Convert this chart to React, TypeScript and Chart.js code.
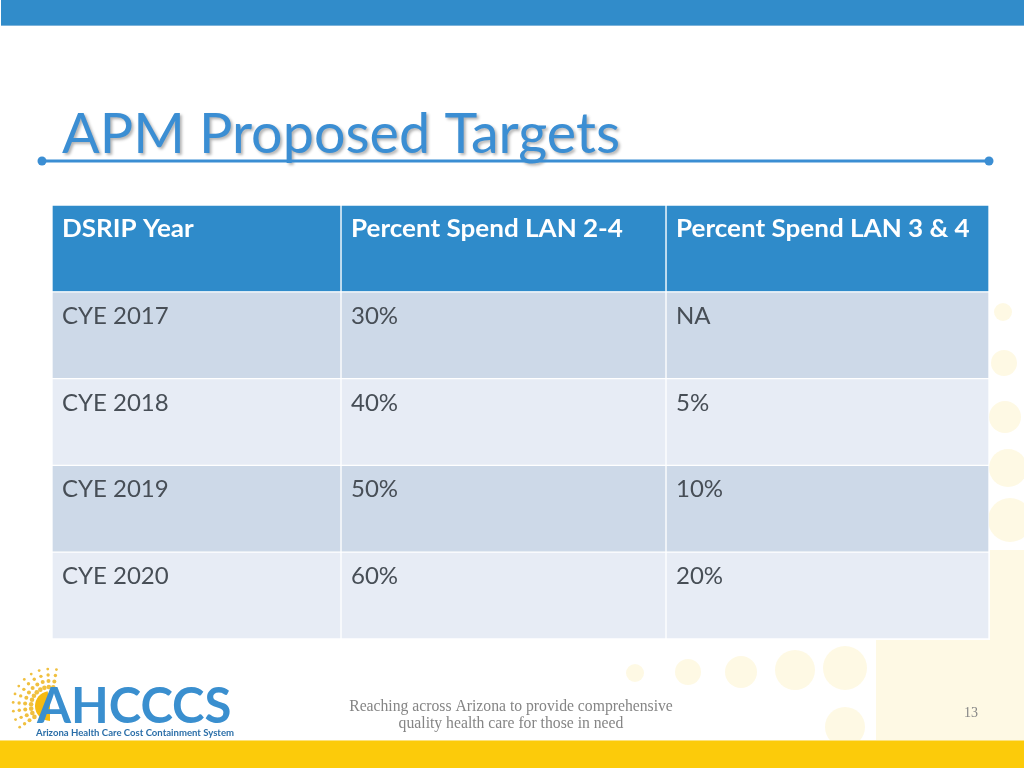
import React, { useEffect, useRef } from "react";
import { Chart, registerables } from "chart.js";

Chart.register(...registerables);

// ---- Data ----
const slideTitle = "APM Proposed Targets";
const columnHeaders = ["DSRIP Year", "Percent Spend LAN 2-4", "Percent Spend LAN 3 & 4"];
const dsripYears = ["CYE 2017", "CYE 2018", "CYE 2019", "CYE 2020"];
const lan24Targets = ["30%", "40%", "50%", "60%"];
const lan34Targets = ["NA", "5%", "10%", "20%"];
const footerLines = ["Reaching across Arizona to provide comprehensive", "quality health care for those in need"];
const pageNumber = "13";
const logoWord = "AHCCCS";
const logoSubtitle = "Arizona Health Care Cost Containment System";

// layout: column boundaries in table units (table is 937 units wide)
const columnEdges = [0, 289, 614, 937];

const rowLabels = ["header", ...dsripYears];
const columnTexts = [
  [columnHeaders[0], ...dsripYears],
  [columnHeaders[1], ...lan24Targets],
  [columnHeaders[2], ...lan34Targets],
];

const HEADER_BG = "#2F8BCA";
const ROW_ODD = "#CDD9E8";
const ROW_EVEN = "#E7ECF5";
const rowColors = rowLabels.map((_, i) => (i === 0 ? HEADER_BG : i % 2 === 1 ? ROW_ODD : ROW_EVEN));

const slidePlugin = {
  id: "slideBackground",
  beforeDraw(chart: any) {
    const ctx = chart.ctx as CanvasRenderingContext2D;
    const W = chart.width;
    const H = chart.height;
    ctx.save();
    ctx.fillStyle = "#ffffff";
    ctx.fillRect(0, 0, W, H);

    // pale yellow decorative circles
    ctx.fillStyle = "rgba(252, 226, 120, 0.2)";
    const circles = [
      [635, 673, 9], [688, 672, 13], [741, 672, 16], [795, 670, 20], [845, 668, 22], [845, 727, 20],
      [1003, 312, 9], [1004, 363, 13], [1005, 417, 16], [1008, 468, 19], [1010, 520, 22],
    ];
    for (const [x, y, r] of circles) {
      ctx.beginPath();
      ctx.arc(x, y, r, 0, Math.PI * 2);
      ctx.fill();
    }
    ctx.fillRect(876, 640, W - 876, 101);
    ctx.fillRect(990, 550, W - 990, 90);

    // top bar
    ctx.fillStyle = "#318CCA";
    ctx.fillRect(1, 0, W - 1, 25);
    ctx.fillStyle = "#7DB3DA";
    ctx.fillRect(1, 25, W - 1, 1);

    // footer bar
    ctx.fillStyle = "#FCCB0A";
    ctx.fillRect(0, 741, W, H - 741);
    ctx.fillStyle = "#FDE27A";
    ctx.fillRect(0, 740, W, 1);

    // title
    ctx.font = "57px Lato";
    ctx.textBaseline = "alphabetic";
    ctx.textAlign = "left";
    ctx.shadowColor = "rgba(0,0,0,0.3)";
    ctx.shadowOffsetX = 2;
    ctx.shadowOffsetY = 2;
    ctx.shadowBlur = 3;
    ctx.fillStyle = "#3B8ED3";
    ctx.fillText(slideTitle, 62, 153, 558);
    ctx.shadowColor = "transparent";
    ctx.shadowOffsetX = 0;
    ctx.shadowOffsetY = 0;
    ctx.shadowBlur = 0;

    // title rule with end dots
    ctx.strokeStyle = "#3B8ED3";
    ctx.lineWidth = 3;
    ctx.beginPath();
    ctx.moveTo(42, 161);
    ctx.lineTo(989, 161);
    ctx.stroke();
    ctx.fillStyle = "#3B8ED3";
    for (const x of [42, 989]) {
      ctx.beginPath();
      ctx.arc(x, 161, 4.5, 0, Math.PI * 2);
      ctx.fill();
    }

    // logo sun
    const cx = 50, cy = 706;
    ctx.fillStyle = "#F5BA12";
    ctx.beginPath();
    ctx.moveTo(cx, cy);
    ctx.arc(cx, cy, 15, Math.PI * 0.5, Math.PI * 1.45);
    ctx.closePath();
    ctx.fill();
    ctx.fillStyle = "#F0C040";
    const rays = 11;
    for (let i = 0; i < rays; i++) {
      const a = Math.PI * (80 + (135 * i) / (rays - 1)) / 180;
      for (let k = 0; k < 4; k++) {
        const rr = 19 + k * 6;
        const dr = 2.3 - k * 0.3;
        ctx.beginPath();
        ctx.arc(cx + Math.cos(a) * rr, cy - Math.sin(a) * rr, dr, 0, Math.PI * 2);
        ctx.fill();
      }
    }
    ctx.font = "bold 49px Lato";
    ctx.fillStyle = "#3A8FCF";
    ctx.fillText(logoWord, 37, 723, 198);
    ctx.font = "bold 10px Lato";
    ctx.fillStyle = "#2A6EA8";
    ctx.fillText(logoSubtitle, 36, 736, 198);

    // footer text
    ctx.font = "15.7px 'Liberation Serif'";
    ctx.fillStyle = "#858585";
    ctx.textAlign = "center";
    ctx.fillText(footerLines[0], 511, 711);
    ctx.fillText(footerLines[1], 511, 728);
    ctx.font = "14px 'Liberation Serif'";
    ctx.fillText(pageNumber, 971, 717);
    ctx.restore();
  },
  afterDatasetsDraw(chart: any) {
    const ctx = chart.ctx as CanvasRenderingContext2D;
    ctx.save();
    ctx.textAlign = "left";
    ctx.textBaseline = "alphabetic";
    chart.data.datasets.forEach((_: any, di: number) => {
      const meta = chart.getDatasetMeta(di);
      meta.data.forEach((el: any, ri: number) => {
        const left = Math.min(el.x, el.base);
        const top = el.y - el.height / 2;
        const text = columnTexts[di][ri];
        if (ri === 0) {
          ctx.save();
          ctx.font = "bold 24px Lato";
          ctx.fillStyle = "#FFFFFF";
          ctx.translate(left + 10, top + 32);
          ctx.scale(1.085, 1);
          ctx.fillText(text, 0, 0);
          ctx.restore();
        } else {
          ctx.font = "24px Lato";
          ctx.fillStyle = "#474E56";
          ctx.fillText(text, left + 10, top + 32);
        }
      });
    });
    ctx.restore();
  },
};

export default function App() {
  const canvasRef = useRef<HTMLCanvasElement | null>(null);
  useEffect(() => {
    if (!canvasRef.current) return;
    const chart = new Chart(canvasRef.current, {
      type: "bar",
      data: {
        labels: rowLabels,
        datasets: columnTexts.map((_, ci) => ({
          label: columnHeaders[ci],
          data: rowLabels.map(() => [columnEdges[ci], columnEdges[ci + 1]]) as any,
          backgroundColor: rowColors,
          borderColor: "#FFFFFF",
          borderWidth: 1,
          borderSkipped: false,
          grouped: false,
          barPercentage: 1,
          categoryPercentage: 1,
        })),
      },
      options: {
        indexAxis: "y",
        responsive: false,
        animation: false,
        devicePixelRatio: 1,
        layout: { padding: { left: 52, right: 35, top: 205, bottom: 129 } },
        scales: {
          x: { type: "linear", min: 0, max: 937, display: false },
          y: { type: "category", display: false },
        },
        plugins: { legend: { display: false }, tooltip: { enabled: false } },
      },
      plugins: [slidePlugin],
    });
    return () => chart.destroy();
  }, []);
  return (
    <div style={{ position: "absolute", left: 0, top: 0, width: 1024, height: 768 }}>
      <canvas ref={canvasRef} width={1024} height={768} />
    </div>
  );
}
